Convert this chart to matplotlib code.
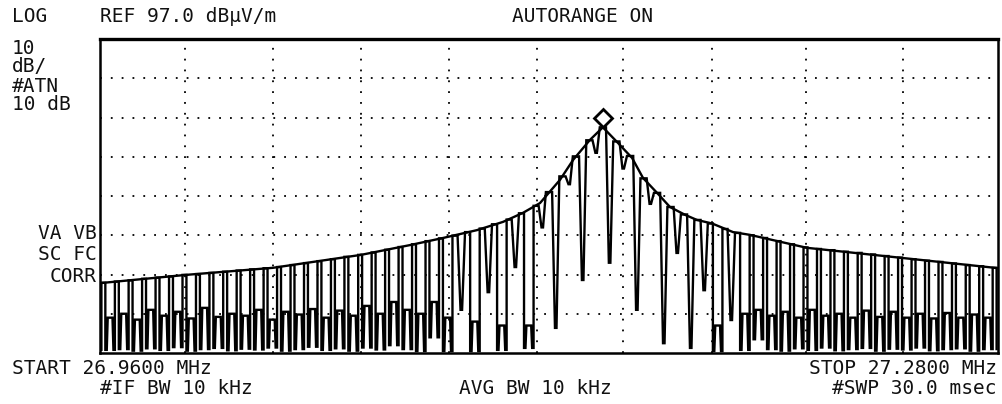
import matplotlib.pyplot as plt
import numpy as np

# analyzer settings
start_mhz = 26.96
stop_mhz = 27.28
ref_db = 97.0
db_per_div = 10

# max-hold envelope
env_mhz = [26.9600, 26.9906, 27.0216, 27.0530, 27.0705, 27.0822, 27.0943, 27.1036,
           27.1107, 27.1168, 27.1239, 27.1286, 27.1346, 27.1392, 27.1446, 27.1496,
           27.1535, 27.1585, 27.1631, 27.1685, 27.1727, 27.1781, 27.1856, 27.1916,
           27.2119, 27.2461, 27.2789, 27.2800]
env_db = [34.8, 36.9, 38.7, 42.0, 44.5, 46.3, 48.3, 50.4,
          52.7, 55.2, 61.1, 66.2, 71.3, 74.5, 70.5, 66.7,
          61.6, 57.8, 54.2, 52.2, 50.9, 50.0, 47.8, 47.1,
          43.8, 41.2, 38.7, 38.6]

# comb teeth of the sweep trace
tooth_mhz = [26.9612, 26.9660, 26.9709, 26.9757, 26.9805, 26.9853, 26.9901, 26.9949,
             26.9997, 27.0046, 27.0094, 27.0142, 27.0190, 27.0238, 27.0286, 27.0334,
             27.0382, 27.0430, 27.0478, 27.0527, 27.0575, 27.0623, 27.0671, 27.0719,
             27.0767, 27.0815, 27.0863, 27.0912, 27.0960, 27.1008, 27.1056, 27.1104,
             27.1152, 27.1200, 27.1248, 27.1296, 27.1344, 27.1392, 27.1440, 27.1489,
             27.1537, 27.1585, 27.1633, 27.1681, 27.1729, 27.1777, 27.1825, 27.1874,
             27.1922, 27.1970, 27.2018, 27.2066, 27.2114, 27.2162, 27.2210, 27.2258,
             27.2307, 27.2355, 27.2403, 27.2451, 27.2499, 27.2547, 27.2595, 27.2643,
             27.2692, 27.2740, 27.2788]
tooth_db = [34.9, 35.2, 35.5, 35.9, 36.2, 36.5, 36.9, 37.1,
            37.4, 37.7, 38.0, 38.3, 38.6, 38.9, 39.4, 39.9,
            40.4, 40.9, 41.5, 42.0, 42.6, 43.3, 44.0, 44.7,
            45.5, 46.2, 46.9, 47.8, 48.7, 49.8, 51.0, 52.6,
            54.5, 58.0, 62.0, 67.1, 71.2, 74.5, 70.9, 67.2,
            61.5, 57.8, 54.2, 52.3, 50.9, 50.0, 48.6, 47.6,
            47.0, 46.3, 45.5, 44.7, 43.9, 43.5, 43.2, 42.8,
            42.5, 42.1, 41.7, 41.3, 40.9, 40.5, 40.2, 39.8,
            39.4, 39.1, 38.7]
# lowest level between tooth i and i+1, and the bump inside that gap
# (bump equal to the low level means a plain notch)
valley_db = [17.8, 18.0, 17.6, 18.2, 17.8, 18.5, 17.6, 18.0, 18.3, 17.7,
             18.1, 17.9, 18.4, 17.6, 18.0, 18.6, 17.8, 18.2, 17.6, 18.4,
             17.9, 19.0, 18.0, 17.5, 21.0, 17.5, 28.0, 17.5, 32.5, 17.8,
             38.9, 18.3, 49.0, 23.4, 60.0, 35.6, 68.0, 40.0, 64.0, 28.0,
             55.0, 19.5, 42.5, 18.3, 33.0, 17.5, 25.4, 17.8, 20.5, 18.0,
             17.6, 18.2, 17.8, 18.4, 17.7, 18.0, 18.3, 17.6, 18.1, 17.9,
             18.4, 17.7, 18.0, 18.2, 17.6, 18.0]
shoulder_db = [26.0, 27.0, 25.5, 28.0, 26.5, 27.5, 25.8, 28.5, 26.2, 27.0,
               26.5, 28.0, 25.5, 27.5, 26.8, 28.2, 26.0, 27.8, 26.5, 29.0,
               27.0, 30.0, 28.0, 27.0, 30.0, 26.0, 28.0, 25.0, 32.5, 24.0,
               38.9, 24.0, 49.0, 23.4, 60.0, 35.6, 68.0, 40.0, 64.0, 28.0,
               55.0, 19.5, 42.5, 18.3, 33.0, 24.0, 25.4, 27.0, 28.0, 26.5,
               27.5, 26.0, 28.0, 26.5, 27.0, 26.0, 27.8, 26.2, 27.5, 26.0,
               27.0, 25.8, 27.2, 26.0, 26.8, 26.0]

marker_mhz = 27.1392
marker_db = 76.9

# graticule positions (screen is slightly non-linear)
grid_mhz = [26.9903, 27.0216, 27.0530, 27.0844, 27.1157, 27.1464, 27.1781, 27.2116, 27.2461]

# build the sweep trace from the teeth
hw = 0.0007
tx = [start_mhz, tooth_mhz[0] - hw]
ty = [valley_db[0], valley_db[0]]
for i in range(len(tooth_mhz)):
    f, p = tooth_mhz[i], tooth_db[i]
    tx += [f - hw, f + hw]
    ty += [p, p]
    if i + 1 < len(tooth_mhz):
        a = f + hw
        b = tooth_mhz[i + 1] - hw
        s = b - a
        lo, sh = valley_db[i], shoulder_db[i]
        if sh == lo:
            tx += [a + 0.12 * s, a + 0.42 * s, a + 0.58 * s, a + 0.88 * s, b]
            ty += [p, lo, lo, tooth_db[i + 1], tooth_db[i + 1]]
        else:
            tx += [a, a + 0.15 * s, a + 0.25 * s, a + 0.75 * s, a + 0.85 * s, b, b]
            ty += [lo, lo, sh, sh, lo, lo, tooth_db[i + 1]]
    else:
        tx += [f + hw]
        ty += [valley_db[-1]]

bottom_db = ref_db - 8 * db_per_div

fig = plt.figure(figsize=(10.02, 4.04), dpi=100)
ax = fig.add_axes([100 / 1002, 51 / 404, 898 / 1002, 314 / 404])

ax.plot(tx, ty, color='k', lw=1.7, solid_joinstyle='miter')
ax.plot(env_mhz, env_db, color='k', lw=1.7)
ax.plot([marker_mhz], [marker_db], marker='D', ms=9, mfc='white', mec='k', mew=2)

ax.set_xlim(start_mhz, stop_mhz)
ax.set_ylim(bottom_db, ref_db)
ax.set_xticks(grid_mhz)
ax.set_yticks(np.arange(bottom_db + db_per_div, ref_db, db_per_div))
ax.tick_params(length=0, labelbottom=False, labelleft=False)
ax.grid(True, color='k', linestyle=(0, (1, 5)), lw=1.3)
for sp in ax.spines.values():
    sp.set_linewidth(1.8)
ax.spines['top'].set_linewidth(2.4)

# screen annotations
fp = dict(family='DejaVu Sans Mono', fontsize=14, color='#111111', va='center')


def put(x, y, s, ha='left'):
    fig.text(x / 1002, 1 - y / 404, s, ha=ha, **fp)


put(12, 17, 'LOG')
put(100, 17, 'REF 97.0 dBμV/m')
put(583, 17, 'AUTORANGE ON', ha='center')
put(12, 48, '10')
put(12, 67, 'dB/')
put(12, 86, '#ATN')
put(12, 105, '10 dB')
put(97, 234, 'VA VB', ha='right')
put(97, 255, 'SC FC', ha='right')
put(97, 277, 'CORR', ha='right')
put(12, 368, 'START 26.9600 MHz')
put(997, 368, 'STOP 27.2800 MHz', ha='right')
put(100, 388, '#IF BW 10 kHz')
put(535, 388, 'AVG BW 10 kHz', ha='center')
put(997, 388, '#SWP 30.0 msec', ha='right')

fig.savefig('out.png', dpi=100)
